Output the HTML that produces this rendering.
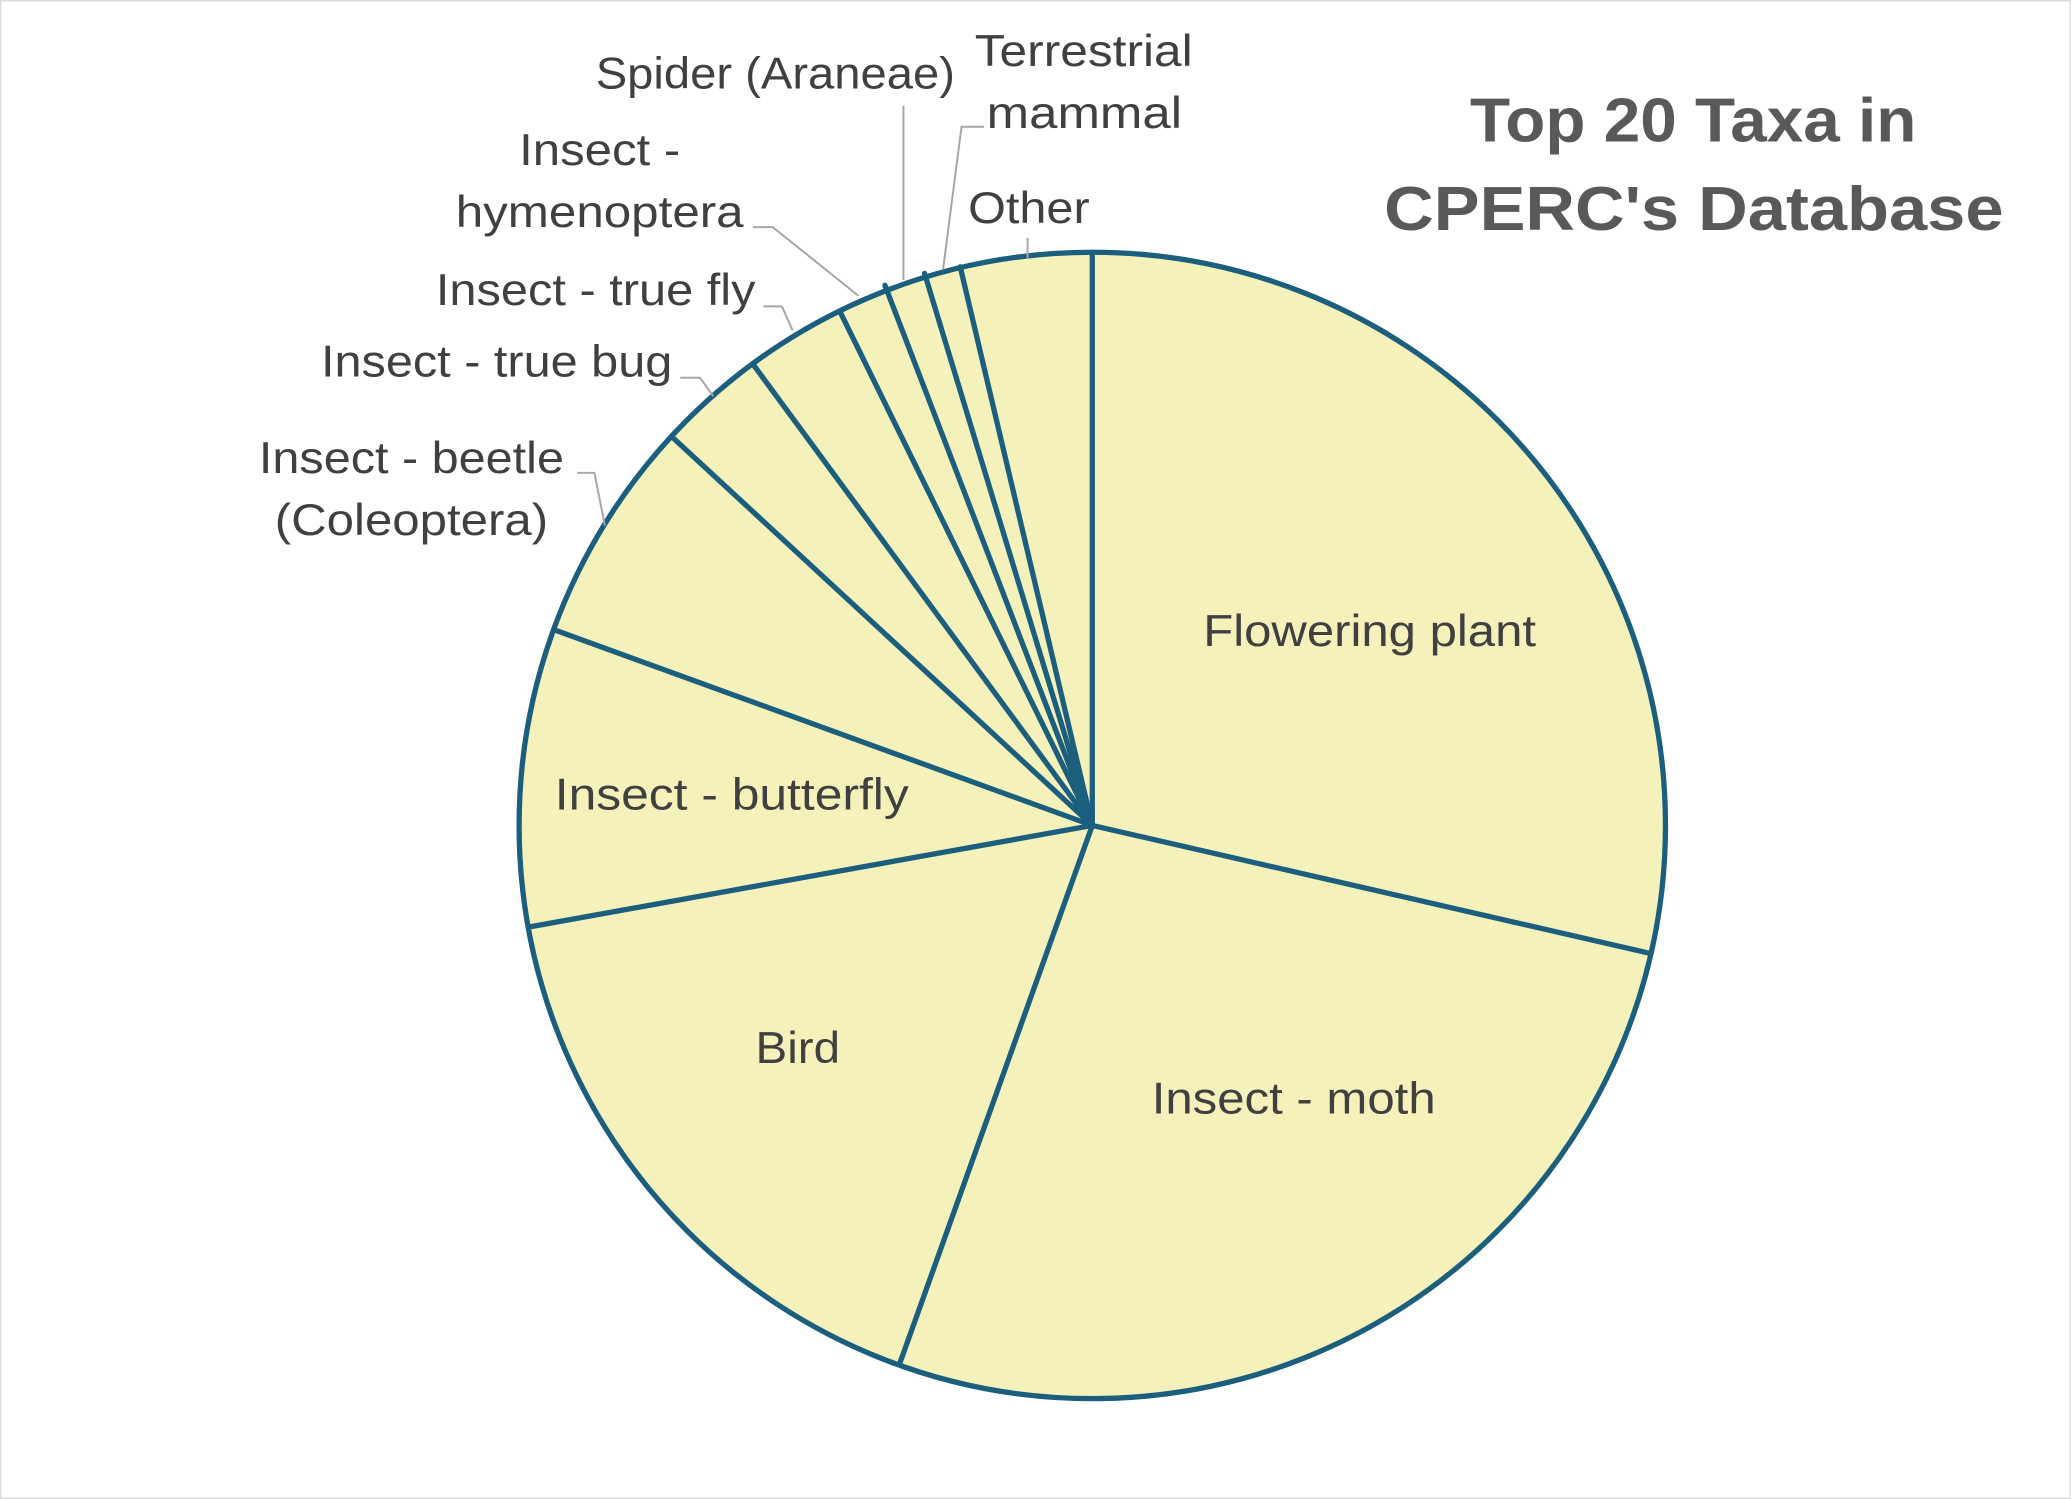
<!DOCTYPE html>
<html><head><meta charset="utf-8"><style>
html,body{margin:0;padding:0;background:#fff}
svg{display:block}
text{font-family:"Liberation Sans",sans-serif;fill:#404040}
</style></head><body>
<svg width="2071" height="1499" viewBox="0 0 1568 1135" xmlns="http://www.w3.org/2000/svg">
<rect x="0.5" y="0.5" width="1567" height="1134" fill="#fff" stroke="#d9d9d9" stroke-width="1"/>
<circle cx="827" cy="625" r="434" fill="#F4F1BA" stroke="#1B5E7E" stroke-width="4"/>
<g stroke="#1B5E7E" stroke-width="4" stroke-linecap="round">
<line x1="827" y1="625" x2="827" y2="191"/>
<line x1="827" y1="625" x2="1250" y2="722"/>
<line x1="827" y1="625" x2="681" y2="1033"/>
<line x1="827" y1="625" x2="400" y2="702"/>
<line x1="827" y1="625" x2="420" y2="477"/>
<line x1="827" y1="625" x2="509" y2="331"/>
<line x1="827" y1="625" x2="571" y2="277"/>
<line x1="827" y1="625" x2="636" y2="236"/>
<line x1="827" y1="625" x2="670" y2="216"/>
<line x1="827" y1="625" x2="700" y2="207"/>
<line x1="827" y1="625" x2="727" y2="202"/>
</g>
<g stroke="#a6a6a6" stroke-width="1.5" fill="none">
<polyline points="437,358 450,358 458,398"/>
<polyline points="515,286 530,286 540,300"/>
<polyline points="578,232 592,232 600,250"/>
<polyline points="570,172 585,172 650,224"/>
<polyline points="684,80 684,212"/>
<polyline points="745,96 728,96 714,204"/>
<polyline points="778,180 778,196"/>
</g>
<g font-size="34" lengthAdjust="spacingAndGlyphs">
<text x="911" y="489" textLength="252" lengthAdjust="spacingAndGlyphs">Flowering plant</text>
<text x="872" y="843" textLength="215" lengthAdjust="spacingAndGlyphs">Insect - moth</text>
<text x="572" y="805" textLength="64" lengthAdjust="spacingAndGlyphs">Bird</text>
<text x="420" y="613" textLength="268" lengthAdjust="spacingAndGlyphs">Insect - butterfly</text>
<text x="196" y="358" textLength="231" lengthAdjust="spacingAndGlyphs">Insect - beetle</text>
<text x="208" y="405" textLength="207" lengthAdjust="spacingAndGlyphs">(Coleoptera)</text>
<text x="243" y="285" textLength="266" lengthAdjust="spacingAndGlyphs">Insect - true bug</text>
<text x="330" y="231" textLength="242" lengthAdjust="spacingAndGlyphs">Insect - true fly</text>
<text x="393" y="125" textLength="122" lengthAdjust="spacingAndGlyphs">Insect -</text>
<text x="345" y="172" textLength="218" lengthAdjust="spacingAndGlyphs">hymenoptera</text>
<text x="451" y="67" textLength="272" lengthAdjust="spacingAndGlyphs">Spider (Araneae)</text>
<text x="738" y="50" textLength="165" lengthAdjust="spacingAndGlyphs">Terrestrial</text>
<text x="747" y="97" textLength="148" lengthAdjust="spacingAndGlyphs">mammal</text>
<text x="733" y="169" textLength="92" lengthAdjust="spacingAndGlyphs">Other</text>
</g>
<g font-size="47" font-weight="bold">
<text x="1113" y="107" textLength="338" lengthAdjust="spacingAndGlyphs" style="fill:#595959">Top 20 Taxa in</text>
<text x="1048" y="174" textLength="469" lengthAdjust="spacingAndGlyphs" style="fill:#595959">CPERC's Database</text>
</g>
</svg>
</body></html>
